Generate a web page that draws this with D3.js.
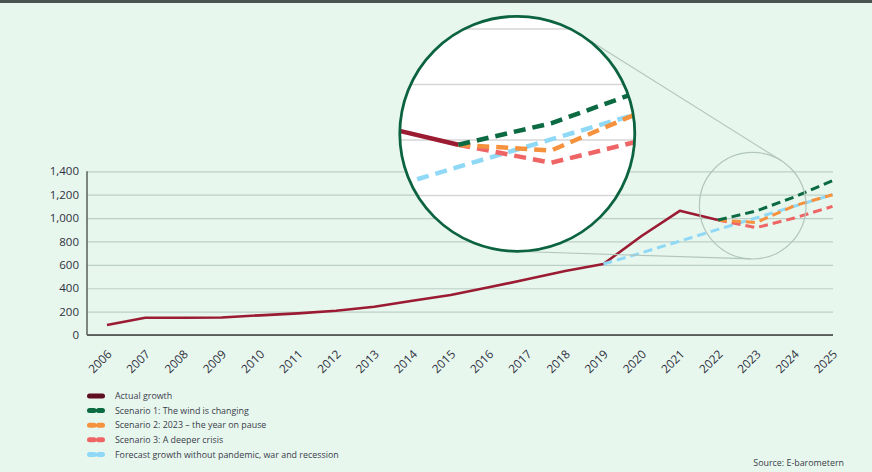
<!DOCTYPE html>
<html>
<head>
<meta charset="utf-8">
<script src="https://cdn.jsdelivr.net/npm/d3@7"></script>
<style>
  html, body { margin: 0; padding: 0; background: #e7f7ee; }
  svg { display: block; }
</style>
</head>
<body>
<svg id="chart" width="872" height="472"></svg>
<script>
// ---- data ----
const years = [2006, 2007, 2008, 2009, 2010, 2011, 2012, 2013, 2014, 2015, 2016, 2017, 2018, 2019, 2020, 2021, 2022, 2023, 2024, 2025];
const actualYears = [2006, 2007, 2008, 2009, 2010, 2011, 2012, 2013, 2014, 2015, 2016, 2017, 2018, 2019, 2020, 2021, 2022];
const actualValues = [85, 148, 148, 150, 168, 185, 208, 242, 293, 342, 408, 476, 547, 607, 847, 1062, 983];
const scenarioYears = [2022, 2023, 2024, 2025];
const scenario1Values = [983, 1060, 1180, 1320];
const scenario2Values = [983, 962, 1105, 1200];
const scenario3Values = [983, 918, 1000, 1100];
const forecastYears = [2019, 2020, 2021, 2022, 2023, 2024, 2025];
const forecastValues = [607, 703, 803, 903, 1002, 1101, 1200];
const yTicks = [0, 200, 400, 600, 800, 1000, 1200, 1400];
const zoomGridValues = [800, 1000, 1200, 1400];
const legendLabels = ["Actual growth", "Scenario 1: The wind is changing", "Scenario 2: 2023 \u2013 the year on pause", "Scenario 3: A deeper crisis", "Forecast growth without pandemic, war and recession"];
const sourceText = "Source: E-barometern";

// ---- styles ----
const colors = {
  actual: "#9b1b33", actualLegend: "#5e1020",
  s1: "#0c6a42", s2: "#f6913e", s3: "#ef6566", fc: "#8fd8f6"
};
const fontFamily = "'Open Sans', 'Noto Sans', sans-serif";

(function () {
const svg = d3.select("#chart");
svg.append("rect").attr("width", 872).attr("height", 472).attr("fill", "#e7f7ee");
svg.append("rect").attr("width", 872).attr("height", 3).attr("fill", "#4a5251");

const pLeft = 87, pRight = 833, pTop = 171.3, pBottom = 335;
const x = d3.scaleLinear().domain([2006, 2025]).range([107, 832.5]);
const y = d3.scaleLinear().domain([0, 1400]).range([pBottom, pTop]);

// gridlines + y labels
const yAxis = svg.append("g").attr("transform", `translate(${pLeft},0)`)
  .call(d3.axisLeft(y).tickValues(yTicks).tickSize(-(pRight - pLeft)).tickPadding(8).tickFormat(d3.format(",")));
yAxis.select(".domain").remove();
yAxis.selectAll(".tick line").attr("stroke", "#bccfc6").attr("stroke-width", 1.2);
yAxis.selectAll(".tick text").attr("font-family", fontFamily).attr("font-size", 11.5).attr("fill", "#2f3040");

// x axis
const xAxis = svg.append("g").attr("transform", `translate(0,${pBottom})`)
  .call(d3.axisBottom(x).tickValues(years).tickSize(0).tickFormat(d => String(d)));
xAxis.select(".domain").remove();
xAxis.selectAll(".tick text")
  .attr("font-family", fontFamily).attr("font-size", 11.8).attr("fill", "#2f3040")
  .attr("text-anchor", "end").attr("y", 0).attr("dy", 0)
  .attr("transform", "translate(5,20) rotate(-45)");

svg.append("line").attr("x1", pLeft).attr("x2", pRight).attr("y1", pBottom).attr("y2", pBottom)
  .attr("stroke", "#3a3a3a").attr("stroke-width", 1.5);
svg.append("line").attr("x1", pLeft).attr("x2", pLeft).attr("y1", pTop).attr("y2", pBottom)
  .attr("stroke", "#5a5f5c").attr("stroke-width", 1.5);

// lines
function drawSeries(g, xs, ys, xsc, ysc, color, width, dash) {
  const line = d3.line().x((d, i) => xsc(xs[i])).y(d => ysc(d));
  const p = g.append("path").datum(ys).attr("d", line).attr("fill", "none")
    .attr("stroke", color).attr("stroke-width", width).attr("stroke-linejoin", "round");
  if (dash) p.attr("stroke-dasharray", dash);
  return p;
}
const main = svg.append("g");
drawSeries(main, actualYears, actualValues, x, y, colors.actual, 2.6, null);
drawSeries(main, forecastYears, forecastValues, x, y, colors.fc, 3, "9,5");
drawSeries(main, scenarioYears, scenario3Values, x, y, colors.s3, 3, "9,5");
drawSeries(main, scenarioYears, scenario2Values, x, y, colors.s2, 3, "9,5");
drawSeries(main, scenarioYears, scenario1Values, x, y, colors.s1, 3, "9,5");

// zoom circles
const c1 = {x: 517.3, y: 133.8, r: 117.5};
const c2 = {x: 752.7, y: 205.7, r: 53.3};
svg.append("circle").attr("cx", c2.x).attr("cy", c2.y).attr("r", c2.r)
  .attr("fill", "none").attr("stroke", "#b2c6bc").attr("stroke-width", 1.2);
const dx = c2.x - c1.x, dy = c2.y - c1.y, dd = Math.hypot(dx, dy);
const phi = Math.atan2(dy, dx), alpha = Math.acos((c1.r - c2.r) / dd);
[phi - alpha, phi + alpha].forEach(a => {
  svg.append("line")
    .attr("x1", c1.x + c1.r * Math.cos(a)).attr("y1", c1.y + c1.r * Math.sin(a))
    .attr("x2", c2.x + c2.r * Math.cos(a)).attr("y2", c2.y + c2.r * Math.sin(a))
    .attr("stroke", "#b2c6bc").attr("stroke-width", 1.2);
});

svg.append("clipPath").attr("id", "zclip").append("circle")
  .attr("cx", c1.x).attr("cy", c1.y).attr("r", c1.r);
svg.append("circle").attr("cx", c1.x).attr("cy", c1.y).attr("r", c1.r).attr("fill", "#ffffff");
const zg = svg.append("g").attr("clip-path", "url(#zclip)");
const xm = d3.scaleLinear().domain([2022, 2023]).range([458.3, 551]);
const ym = d3.scaleLinear().domain([1000, 1200]).range([140, 84.5]);
zoomGridValues.forEach(v => {
  zg.append("line").attr("x1", c1.x - c1.r).attr("x2", c1.x + c1.r)
    .attr("y1", ym(v)).attr("y2", ym(v)).attr("stroke", "#d6d6d6").attr("stroke-width", 1.5);
});
drawSeries(zg, actualYears, actualValues, xm, ym, colors.actual, 4.5, null);
drawSeries(zg, forecastYears, forecastValues, xm, ym, colors.fc, 4.5, "12,7");
drawSeries(zg, scenarioYears, scenario3Values, xm, ym, colors.s3, 4.5, "12,7");
drawSeries(zg, scenarioYears, scenario2Values, xm, ym, colors.s2, 4.5, "12,7");
drawSeries(zg, scenarioYears, scenario1Values, xm, ym, colors.s1, 4.5, "12,7");
svg.append("circle").attr("cx", c1.x).attr("cy", c1.y).attr("r", c1.r)
  .attr("fill", "none").attr("stroke", "#0b6340").attr("stroke-width", 2.8);

// legend
const legendColors = [colors.actualLegend, colors.s1, colors.s2, colors.s3, colors.fc];
const lg = svg.append("g");
legendLabels.forEach((lab, i) => {
  const yy = 396 + i * 14.6;
  const sym = lg.append("line").attr("x1", 89.5).attr("x2", 102.5).attr("y1", yy).attr("y2", yy)
    .attr("stroke", legendColors[i]).attr("stroke-width", 5).attr("stroke-linecap", "round");
  if (i > 0) sym.attr("stroke-dasharray", "4.5,4.5");
  lg.append("text").attr("x", 115).attr("y", yy).attr("dy", "0.35em")
    .attr("font-family", fontFamily).attr("font-size", 8.9).attr("fill", "#3a3b4a").text(lab);
});
svg.append("text").attr("x", 844).attr("y", 463).attr("dy", "0.35em").attr("text-anchor", "end")
  .attr("font-family", fontFamily).attr("font-size", 8.9).attr("fill", "#3a3b4a").text(sourceText);
})();
</script>
</body>
</html>
